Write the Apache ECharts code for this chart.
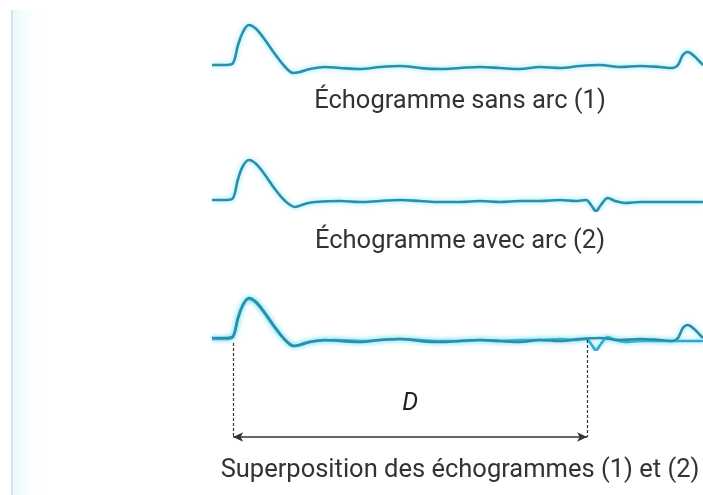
<!DOCTYPE html>
<html><head><meta charset="utf-8">
<script src="https://cdn.jsdelivr.net/npm/echarts@6/dist/echarts.min.js"></script>
<style>html,body{margin:0;padding:0;background:#fff}#c{width:703px;height:495px}</style>
</head><body><div id="c"></div>
<script>
// time axis (arbitrary units, 0..100)
const tSans = [0,2.4,4.1,5.3,6.3,7.5,9.0,10.8,12.8,14.9,16.5,17.9,20.0,23.0,26.1,30.1,34.2,38.3,42.4,46.4,50.5,54.6,58.7,62.7,66.8,70.9,74.9,79.0,83.1,87.2,91.2,93.7,94.9,95.9,96.9,98.2,99.4,100];
const ampSans = [2,2,3,22,35,42,38,27,13,0,-6,-5,-2,0,-1,-2,0,1,-1,-2,-1,0,-1,-2,0,-1,1,2,0,1,0,-1,2,12,15,11,5,2];
const tAvec = [0,2.4,4.1,5.3,6.3,7.5,9.0,10.8,12.8,14.9,16.9,18.9,21.0,26.1,30.1,34.2,38.3,42.4,46.4,50.5,54.6,58.7,62.7,66.8,70.9,74.1,76.2,77.2,78.2,79.2,80.6,82.1,84.1,87.2,91.2,95.3,100];
const ampAvec = [1,1,2,22,35,41,37,26,12,0,-6,-3,-1,0,-1,0,1,0,-1,-1,0,-1,0,0,1,0,1,-4,-10,-4,3,0,-2,-1,-1,-1,-1];
const labels = ["Échogramme sans arc (1)", "Échogramme avec arc (2)", "Superposition des échogrammes (1) et (2)"];
const dStart = 4.3, dEnd = 76.4;
const dLabel = "D";

const pairs = (t, a) => t.map((x, i) => [x, a[i]]);
const chart = echarts.init(document.getElementById('c'));
const glow = {shadowColor: 'rgba(90,220,240,0.8)', shadowBlur: 5};
const xA = i => ({type:'value', gridIndex:i, min:0, max:100, show:false});
const yA = i => ({type:'value', gridIndex:i, min:-10, max:50, show:false});
const lineS = (i, data, color, z) => ({
  type:'line', xAxisIndex:i, yAxisIndex:i, data, showSymbol:false, smooth:0.35, z,
  lineStyle:Object.assign({color, width:2.6}, glow), silent:true
});
chart.setOption({
  animation:false,
  backgroundColor:'#fff',
  grid:[
    {left:212, right:0, top:17, height:60},
    {left:212, right:0, top:151, height:60},
    {left:212, right:0, top:290, height:60},
    {left:212, right:0, top:340, height:97}
  ],
  xAxis:[xA(0), xA(1), xA(2), xA(3)],
  yAxis:[yA(0), yA(1), yA(2), {type:'value', gridIndex:3, min:0, max:1, show:false}],
  title: labels.map((txt, i) => ({
    text: txt, left: 455, top: [84, 224, 453][i], textAlign:'center',
    textStyle:{fontFamily:'Roboto', fontWeight:'normal', fontSize:25.5, color:'#333'}
  })),
  graphic:[{type:'rect', shape:{x:11, y:10, width:2, height:485}, style:{fill:'#cfe6ea'}},
           {type:'rect', shape:{x:13, y:10, width:30, height:485}, style:{fill:new echarts.graphic.LinearGradient(0,0,1,0,[{offset:0,color:'rgba(225,245,248,0.7)'},{offset:1,color:'rgba(255,255,255,0)'}])}}],
  series:[
    lineS(0, pairs(tSans, ampSans), '#2a8fab', 2),
    lineS(1, pairs(tAvec, ampAvec), '#2a8fab', 2),
    lineS(2, pairs(tAvec, ampAvec), '#35a3d6', 2),
    lineS(2, pairs(tSans, ampSans), '#2a8ea6', 3),
    {type:'line', xAxisIndex:3, yAxisIndex:3, data:[], silent:true,
     markLine:{silent:true, animation:false, symbol:['none','none'],
       lineStyle:{color:'#333', width:1.2, type:[3,2]}, label:{show:false},
       data:[
         [{coord:[dStart, 0.97]}, {coord:[dStart, 0]}],
         [{coord:[dEnd, 1]}, {coord:[dEnd, 0]}],
         [{coord:[dStart, 0], symbol:'arrow', symbolSize:[7,10], lineStyle:{type:'solid', color:'#333', width:1.6},
           label:{show:true, position:'middle', formatter:dLabel, distance:21, fontSize:25, fontStyle:'italic', fontFamily:'Roboto', color:'#222'}},
          {coord:[dEnd, 0], symbol:'arrow', symbolSize:[7,10]}]
       ]}}
  ]
});
</script></body></html>
